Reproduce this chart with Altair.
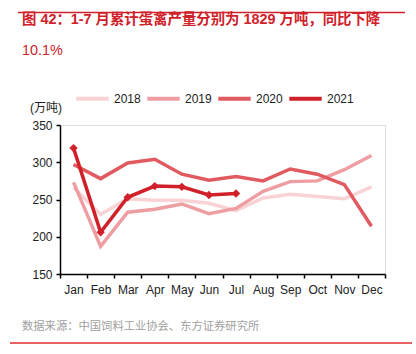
import altair as alt
import pandas as pd

months = ["Jan", "Feb", "Mar", "Apr", "May", "Jun", "Jul", "Aug", "Sep", "Oct", "Nov", "Dec"]
years = ["2018", "2019", "2020", "2021"]
v2018 = [266, 230, 251, 249, 249, 245, 235, 252, 257, 254, 251, 267]
v2019 = [273, 187, 233, 237, 244, 231, 238, 261, 274, 275, 290, 309]
v2020 = [297, 278, 299, 304, 284, 276, 281, 275, 291, 284, 270, 214]
v2021 = [319, 206, 253, 268, 267, 256, 258]
colors = ["#F8D2D4", "#EE9EA2", "#E05A60", "#D0212A"]

title1 = "图 42：1-7 月累计蛋禽产量分别为 1829 万吨，同比下降"
title2 = "10.1%"
unit = "(万吨)"
source = "数据来源：中国饲料工业协会、东方证券研究所"

rows = []
for y, vals in zip(years, [v2018, v2019, v2020, v2021]):
    for m, v in zip(months, vals):
        rows.append({"year": y, "month": m, "value": v})
df = pd.DataFrame(rows)

FONT = "Liberation Sans, Noto Sans CJK SC"
W, H = 325, 149

x = alt.X("month:N", sort=months, bandPosition=0.5,
          scale=alt.Scale(type="band", paddingInner=0, paddingOuter=0),
          axis=alt.Axis(title=None, labelAngle=0, tickBand="extent", tickSize=4,
                        labelPadding=6, labelFontSize=12, labelColor="#222",
                        domainColor="#000", tickColor="#000", domainWidth=1.5, tickWidth=1.5))
y = alt.Y("value:Q", scale=alt.Scale(domain=[150, 350], nice=False, zero=False),
          axis=alt.Axis(title=None, values=[150, 200, 250, 300, 350], tickSize=4, grid=False,
                        labelPadding=4, labelFontSize=12, labelColor="#222",
                        domainColor="#000", tickColor="#000", domainWidth=1.5, tickWidth=1.5))

lines = alt.Chart(df).mark_line(strokeWidth=3.5, strokeJoin="miter").encode(
    x=x, y=y,
    color=alt.Color("year:N", scale=alt.Scale(domain=years, range=colors),
                    legend=alt.Legend(title=None, orient="none", direction="horizontal",
                                      legendX=14, legendY=-45, symbolType="stroke",
                                      symbolSize=1050, symbolStrokeWidth=4,
                                      labelFontSize=12, labelColor="#222",
                                      columnPadding=-2, labelOffset=3)),
    order=alt.Order("year:N"),
)

points = alt.Chart(df).transform_filter(alt.datum.year == "2021").mark_point(
    shape="diamond", filled=True, size=70, opacity=1, color="#D0212A"
).encode(x=x, y=y)

def txt(s, xp, yp, size, color, weight="normal", align="left"):
    return alt.Chart(pd.DataFrame({"t": [s]})).mark_text(
        text=s, fontSize=size, color=color, fontWeight=weight, align=align,
        baseline="middle", font=FONT
    ).encode(x=alt.value(xp), y=alt.value(yp))

t1 = txt(title1, -38, -105, 14.4, "#D0212A", "bold")
t2 = txt(title2, -38, -74, 14.4, "#D0212A")
tu = txt(unit, -30, -17, 12, "#222")
ts = txt(source, -38, 202, 11.3, "#A0A0A0")

rule_df = pd.DataFrame({"a": [0]})
top_rule = alt.Chart(rule_df).mark_rule(color="#D0212A", strokeWidth=1.3, clip=False).encode(
    x=alt.value(-42), x2=alt.value(345), y=alt.value(-112.5))
bot_rule = alt.Chart(rule_df).mark_rule(color="#E03030", strokeWidth=1.3, clip=False).encode(
    x=alt.value(-50), x2=alt.value(352), y=alt.value(218))

chart = alt.layer(lines, points, t1, t2, tu, ts, top_rule, bot_rule).properties(
    width=W, height=H,
    autosize=alt.AutoSizeParams(type="none"),
    padding={"left": 60, "top": 125, "right": 31, "bottom": 80},
).configure_view(stroke=None).configure(font=FONT).configure_text(font=FONT)

chart.save("out.html", embed_options={"renderer": "svg", "actions": False})
